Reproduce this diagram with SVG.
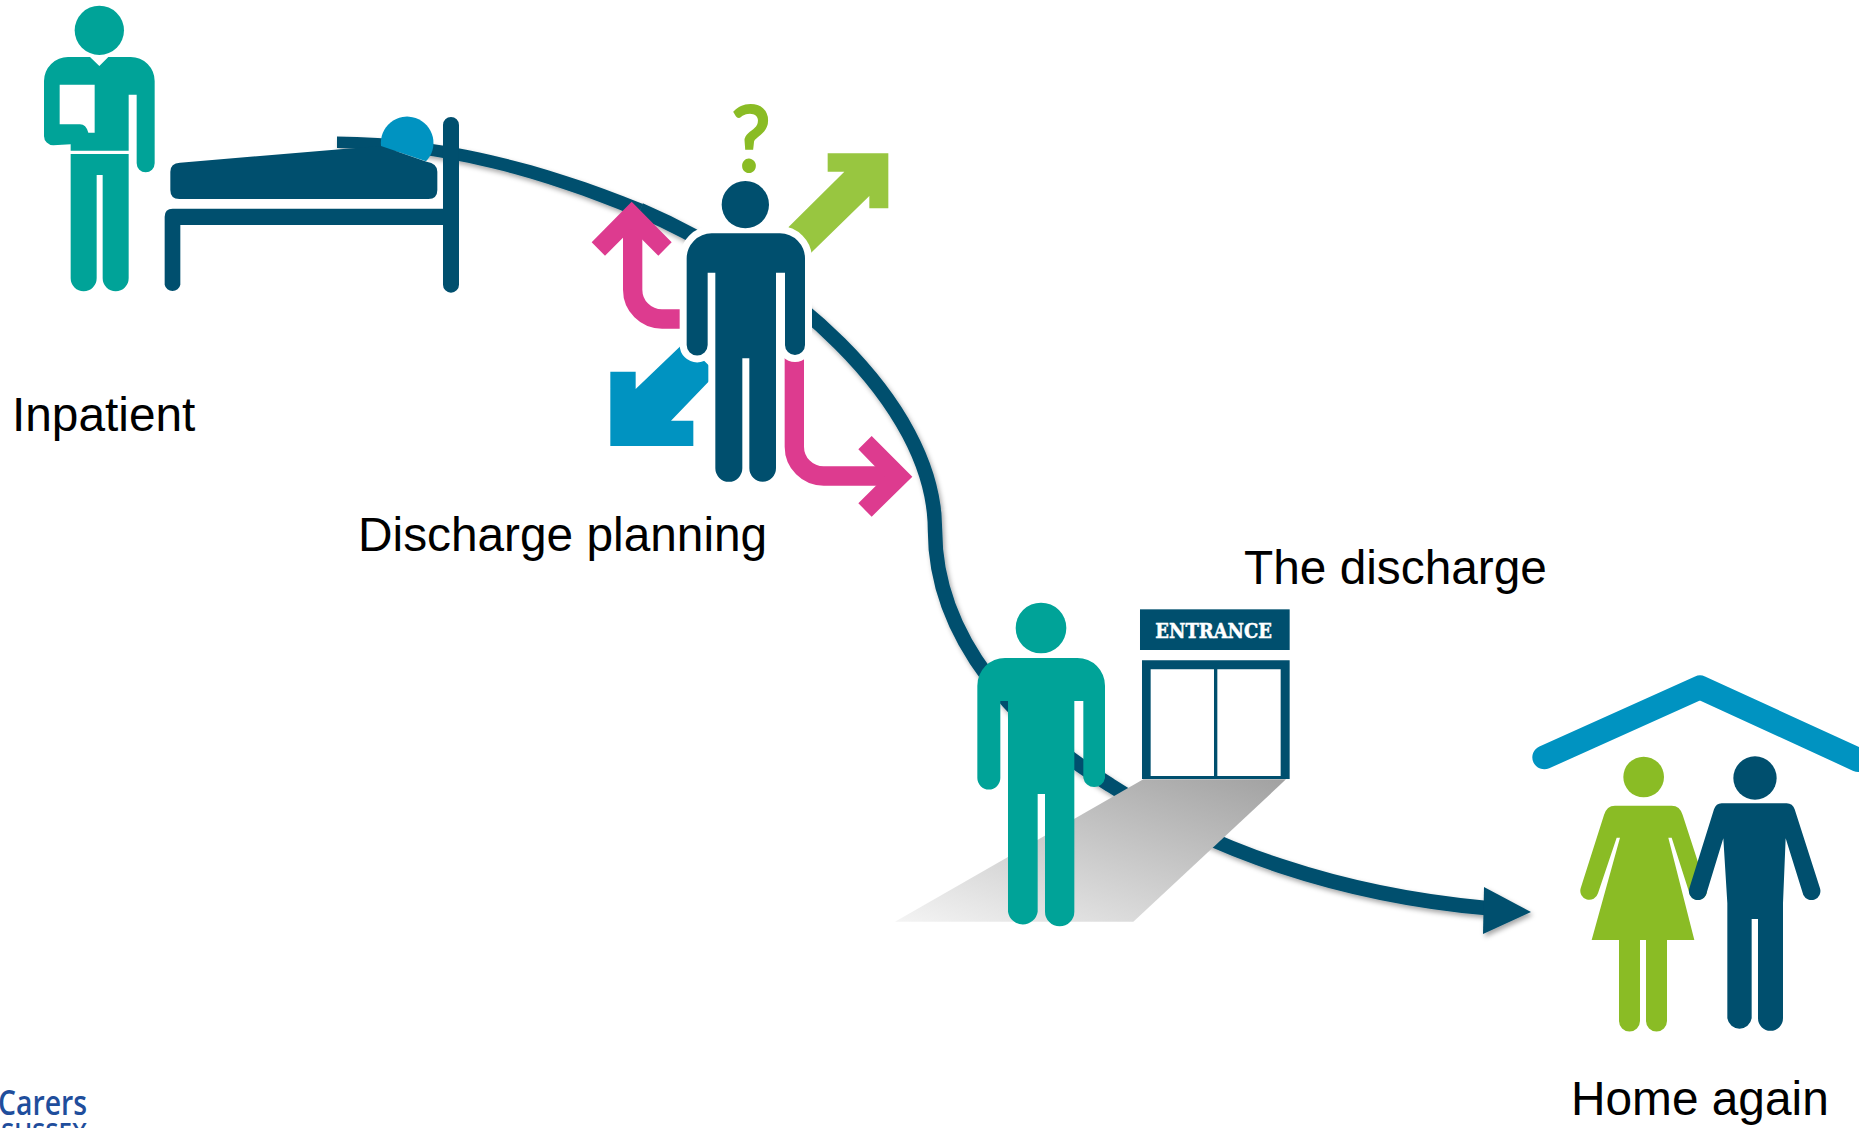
<svg xmlns="http://www.w3.org/2000/svg" width="1859" height="1128" viewBox="0 0 1859 1128">
<style>
.navy{fill:#004f6e}.teal{fill:#00a398}.blue{fill:#0093c1}.pink{fill:#dd3b8f}.lime{fill:#98c640}.green{fill:#8abc25}
.lbl{font-family:"Liberation Sans",Arial,sans-serif;font-size:47.8px;fill:#000}
.logo{font-family:"Open Sans","Noto Sans",sans-serif;font-weight:600;fill:#1f4e9c}
</style>
<defs>
<filter id="sh" x="-5%" y="-5%" width="110%" height="110%"><feDropShadow dx="2" dy="3" stdDeviation="2.5" flood-color="#000" flood-opacity=".35"/></filter>
<linearGradient id="walk" gradientUnits="userSpaceOnUse" x1="1200" y1="600" x2="945" y2="1337"><stop offset="0" stop-color="#a2a2a2"/><stop offset="1" stop-color="#f4f4f4"/></linearGradient>
<path id="man2" d="M425 430H630A75 75 0 0 1 705 505V765A30 30 0 0 1 645 765V548H618V1135A40 40 0 0 1 538 1135V805H517V1135A40 40 0 0 1 436 1135V548H413V765A31 31 0 0 1 350 765V505A75 75 0 0 1 425 430Z"/>
</defs>

<g id="connectors" filter="url(#sh)">
<path class="navy" d="M337 136.500C420 137 520 153.500 643 204L637 217C520 167 420 149 337 148Z"/>
<path d="M640 210C780 270 935 400 935 530C935 640 1020 730 1110 785C1210 850 1340 895 1486 908" fill="none" stroke="#004f6e" stroke-width="14.500"/>
<path class="navy" d="M1484 887L1531 912L1483 934Z"/>
</g>

<g id="inpatient-carer" class="teal" transform="scale(.33333)">
<circle cx="298" cy="91" r="74"/>
<path fill-rule="evenodd" d="M205 171H270L298 198L325 171H392A72 72 0 0 1 464 243V490A27 27 0 0 1 410 490V284H386V452H212V433L160 436A28 28 0 0 1 132 408V243A72 72 0 0 1 205 171ZM179 254V373H240Q258 373 265 398H284V254Z"/>
<path d="M212 462H386V835A39 39 0 0 1 308 835V525H290V835A39 39 0 0 1 212 835Z"/>
</g>

<g id="bed" transform="scale(.33333)">
<path class="navy" d="M1353 351A24 24 0 0 1 1377 375V854A24 24 0 0 1 1329 854V675H541V854A24 24 0 0 1 494 854V650Q494 626 518 626H1329V375A24 24 0 0 1 1353 351Z"/>
<path class="navy" d="M540 488L1030 447L1143 438L1280 485Q1312 490 1312 515V570Q1312 597 1285 597H538Q511 597 511 570V515Q511 490 540 488Z"/>
<path class="blue" d="M1143 438A79 79 0 1 1 1278 484Z"/>
</g>

<g id="discharge-planning" transform="translate(570 90) scale(.33333)">
<path class="lime" d="M773 190H955V355H898V318L722 490L655 412L823 245H773Z"/>
<path class="blue" d="M121 845H197V897L345 755L440 850L303 992H370V1068H121Z"/>
<path d="M340 687H276A88 88 0 0 1 188 599V400" fill="none" stroke="#dd3b8f" stroke-width="58"/>
<path class="pink" d="M185 335L305 457L265 497L185 417L105 497L65 457Z"/>
<path d="M673 780V1070A88 88 0 0 0 761 1158H950" fill="none" stroke="#dd3b8f" stroke-width="58"/>
<path class="pink" d="M1027 1160L905 1280L865 1240L945 1160L865 1078L905 1038Z"/>
<use href="#man2" fill="#fff" stroke="#fff" stroke-width="42" stroke-linejoin="round"/>
<circle cx="526" cy="344" r="84" fill="#fff"/>
<circle cx="526" cy="344" r="71" class="navy"/>
<use href="#man2" class="navy"/>
</g>
<text id="question-mark" x="751" y="171" text-anchor="middle" textLength="39" lengthAdjust="spacingAndGlyphs" font-family="Lato,'Noto Sans',sans-serif" font-size="92" stroke="#8abc25" stroke-width="3" class="green">?</text>

<g id="discharge" transform="translate(880 580) scale(.33333)">
<path fill="url(#walk)" d="M790 598H1218L760 1025H45Z"/>
<rect class="navy" x="780" y="88" width="449" height="122"/>
<text x="826" y="175" textLength="350" lengthAdjust="spacingAndGlyphs" font-family="'DejaVu Serif',serif" font-weight="700" font-size="63" fill="#fff" stroke="#fff" stroke-width="1.500">ENTRANCE</text>
<path class="navy" fill-rule="evenodd" d="M786 241H1229V597H786ZM812 268V588H1002V268ZM1012 268V588H1202V268Z"/>
<g class="teal">
<circle cx="483" cy="144" r="76"/>
<path d="M375 234H592A83 83 0 0 1 675 317V594A33 33 0 0 1 610 594V363H583V995A44 44 0 0 1 495 995V642H473V995A45 45 0 0 1 384 995V363H361V594A34 34 0 0 1 292 594V317A83 83 0 0 1 375 234Z"/>
</g>
</g>

<g id="home" transform="translate(1460 660) scale(.33333)">
<path d="M253 292L720 82L1195 300" fill="none" stroke="#0093c1" stroke-width="72" stroke-linecap="round" stroke-linejoin="round"/>
<g class="green">
<circle cx="551" cy="351" r="61"/>
<path d="M465 437H635Q660 437 668 465L738 680A27 27 0 0 1 690 705L635 533H625L703 840H621V1083A31 31 0 0 1 558 1083V840H540V1083A31 31 0 0 1 477 1083V840H395L480 533H470L414 700A27 27 0 0 1 362 685L432 465Q440 437 465 437Z"/>
</g>
<g class="navy">
<circle cx="885" cy="354" r="65"/>
<path d="M785 430H980Q998 430 1004 448L1080 685A27 27 0 0 1 1030 705L977 535L969 730V1075A37 37 0 0 1 894 1075V777H875V1075A37 37 0 0 1 802 1075V730L790 535L738 705A27 27 0 0 1 688 685L762 448Q768 430 785 430Z"/>
</g>
</g>

<text class="lbl" x="12" y="431">Inpatient</text>
<text class="lbl" x="358" y="551">Discharge planning</text>
<text class="lbl" x="1244" y="584">The discharge</text>
<text class="lbl" x="1571" y="1115">Home again</text>

<g id="logo">
<text class="logo" font-size="35" x="-2" y="1115" textLength="89" lengthAdjust="spacingAndGlyphs">Carers</text>
<text class="logo" font-size="27" x="1" y="1142" textLength="86" lengthAdjust="spacingAndGlyphs">SUSSEX</text>
</g>
</svg>
